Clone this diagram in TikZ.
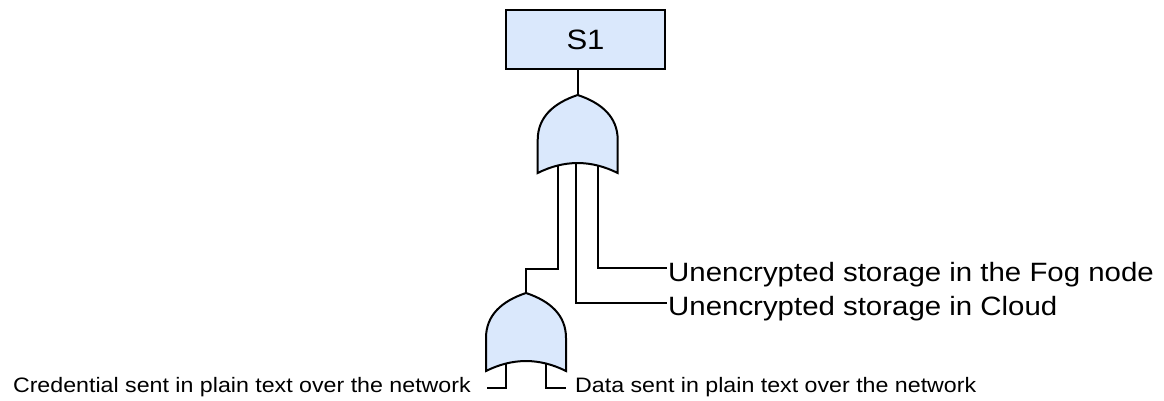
\documentclass[tikz,border=0pt]{standalone}
\usepackage{fontspec}
\setmainfont{Liberation Sans}[FakeStretch=1.11]
\usetikzlibrary{calc,backgrounds}
\definecolor{gfill}{HTML}{DAE8FC}
\tikzset{
  wire/.style={line width=2pt, draw=black},
  gateshape/.style={line width=2pt, draw=black, fill=gfill, line join=miter},
  eventbox/.style={draw=black, fill=gfill, line width=2pt, minimum width=159pt, minimum height=59pt, inner sep=0pt, font=\fontsize{28}{32}\selectfont},
  bigtxt/.style={font=\fontsize{26.5}{30}\selectfont, inner sep=0pt},
  smalltxt/.style={font=\fontsize{20.9}{24}\selectfont, inner sep=0pt},
  orgate/.pic={
    \path[gateshape] (-40,78) -- (-40,45) .. controls (-40,22) and (-24,8) .. (0,0)
      .. controls (24,8) and (40,22) .. (40,45) -- (40,78)
      .. controls (13.3,64.7) and (-13.3,64.7) .. (-40,78) -- cycle;
    \coordinate (-out) at (0,0);
    \coordinate (-a) at (-20,65);
    \coordinate (-b) at (-2,65);
    \coordinate (-c) at (20,65);
  }
}
\begin{document}
\begin{tikzpicture}[x=1pt,y=-1pt]
\useasboundingbox (0,0) rectangle (1164,401);
\node[eventbox] (s1) at (585.5,39.5) {S1};
\pic (g1) at (577.7,95) {orgate};
\pic (g2) at (526,293) {orgate};
\coordinate (j1) at (526,269.3);
\coordinate (fogin) at (667,268.3);
\coordinate (cloudin) at (667,302.7);
\coordinate (credin) at (487,387.7);
\coordinate (datain) at (566,387.7);
\node[bigtxt, anchor=base west] (fog) at (668,281) {Unencrypted storage in the Fog node};
\node[bigtxt, anchor=base west] (cloud) at (668,315.7) {Unencrypted storage in Cloud};
\node[smalltxt, anchor=base east] (cred) at (471,392) {Credential sent in plain text over the network};
\node[smalltxt, anchor=base west] (data) at (575,392) {Data sent in plain text over the network};
\begin{scope}[on background layer]
  \fill[white] (0,0) rectangle (1164,401);
  \draw[wire] (g1-out |- s1.south) -- (g1-out);
  \draw[wire] (g1-a) |- (j1) -- (g2-out);
  \draw[wire] (g1-b) |- (cloudin);
  \draw[wire] (g1-c) |- (fogin);
  \draw[wire] (g2-a) |- (credin);
  \draw[wire] (g2-c) |- (datain);
\end{scope}
\end{tikzpicture}
\end{document}
